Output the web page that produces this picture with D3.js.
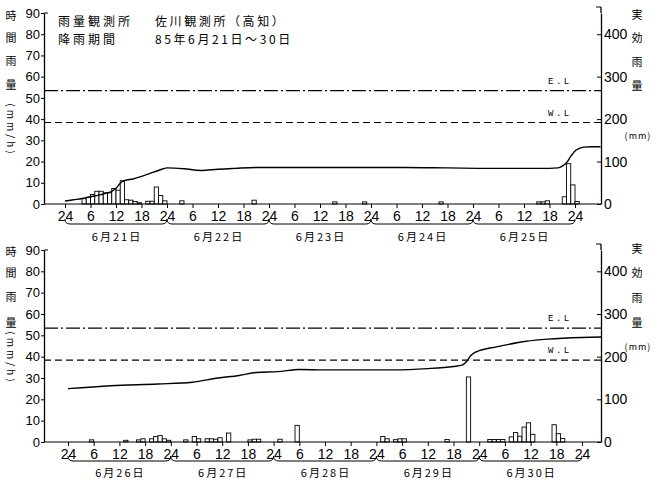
<!DOCTYPE html>
<html><head><meta charset="utf-8">
<script src="https://cdn.jsdelivr.net/npm/d3@7"></script>
<style>body{margin:0;background:#fff}svg{display:block}</style>
</head><body>
<svg id="c" width="662" height="481"></svg>
<script>
// ---------- data ----------
const titleLeft = ["雨量観測所", "降雨期間"];
const titleRight = ["佐川観測所（高知）", "85年6月21日～30日"];
const yTitleChars = ["時", "間", "雨", "量"];
const yTitleUnit = "(mm/h)";
const rTitleChars = ["実", "効", "雨", "量"];
const rTitleUnit = "(mm)";
const daysTop = ["6月21日", "6月22日", "6月23日", "6月24日", "6月25日"];
const daysBottom = ["6月26日", "6月27日", "6月28日", "6月29日", "6月30日"];
const hourTicks = [0,6,12,18,24,30,36,42,48,54,60,66,72,78,84,90,96,102,108,114,120];
const hourTickLabels = ["24","6","12","18","24","6","12","18","24","6","12","18","24","6","12","18","24","6","12","18","24"];
const leftTicks = [0,10,20,30,40,50,60,70,80,90];
const rightTicks = [0,100,200,300,400];
const levelNames = ["E.L", "W.L"];
const levelValues = [267, 192];

// hourly rainfall (mm/h), bar for hour [h, h+1]
const rainHoursTop  = [4,5,6,7,8,9,10,11,12,13,14,15,16,17,19,20,21,22,23,27,44,63,70,88,111,112,113,117,118,119,120];
const rainValuesTop = [2.5,3.2,4.5,6,6,5.3,5.3,7.3,6.5,11,2,1.8,1.2,0.6,1.3,1.3,8,4,1.5,1.5,1.8,1,1,1,1,1,1.5,3.4,19,9,1.2];
const rainHoursBottom  = [5,13,16,17,19,20,21,22,23,27,29,30,32,33,34,35,37,42,43,44,49,53,73,74,76,77,78,88,93,98,99,100,101,103,104,105,106,107,108,113,114,115];
const rainValuesBottom = [1,0.8,1,1.5,1.5,2.6,3,1.5,0.8,1,2.6,1.5,1.5,1.5,1.3,2,4.2,1,1.3,1.3,1.3,7.8,2.6,1.5,1.1,1.5,1.5,1.2,30.5,1.2,1.2,1.2,1.2,2.4,4.4,2.7,7,9,3.6,8.1,3.9,1.6];

// effective rainfall (mm)
const effHoursTop  = [0,2,4,6,8,10,11,12,13,14,16,18,20,22,24,28,32,36,40,45,50,60,70,80,90,100,108,114,116,117,118,119,120,121,122,124,126];
const effValuesTop = [7,10,13,17,21,26,30,37,49,55,59,65,72,79,85,83,79,82,84,86,86,86,86,86,85,84,84,84,85,89,97,112,125,131,134,135,135];
const effHoursBottom  = [0,10,21,29,35,40,44,49,54,60,68,76,84,90,92,93,94,95,96,100,107,112,120,124.5];
const effValuesBottom = [125,132,136,140,150,156,163,165,170,169,169,169,172,177,180,188,202,210,214,223,236,241,245,246];

// ---------- layout ----------
const panels = [
  {y0:204, y90:13, xh0:65, xh120:575, braceY:224, dateY:236, days:daysTop,
   rain:[rainHoursTop, rainValuesTop], eff:[effHoursTop, effValuesTop], effEnd:126,
   yTitle:[15,37,60,84], yUnit:130, rTitle:[14,37,61,85], rUnit:135, title:true},
  {y0:442, y90:250, xh0:68, xh120:582, braceY:461, dateY:472, days:daysBottom,
   rain:[rainHoursBottom, rainValuesBottom], eff:[effHoursBottom, effValuesBottom], effEnd:124.5,
   yTitle:[251,272,296,322], yUnit:358, rTitle:[248,272,297,322], rUnit:346, title:false}
];
const leftX = 44, rightX = 601;
const jp = "'Noto Sans CJK JP', sans-serif";
const num = "'Liberation Sans', Arial, sans-serif";

const svg = d3.select("#c");
svg.append("rect").attr("width",662).attr("height",481).attr("fill","#fff");

panels.forEach(p => {
  const g = svg.append("g");
  const x = d3.scaleLinear().domain([0,120]).range([p.xh0, p.xh120]);
  const yL = d3.scaleLinear().domain([0,90]).range([p.y0, p.y90]);
  const yR = d3.scaleLinear().domain([0,450]).range([p.y0, p.y90]);

  // level lines
  levelValues.forEach((v,i) => {
    g.append("line").attr("x1",leftX).attr("x2",rightX)
      .attr("y1",yR(v)).attr("y2",yR(v))
      .attr("stroke","#000").attr("stroke-width",1.1)
      .attr("stroke-dasharray", i===0 ? "14,3,2,3" : "7,4");
    g.append("text").attr("x",548).attr("y",yR(v)-7)
      .attr("font-family","'Liberation Mono', monospace").attr("font-size",9)
      .attr("letter-spacing",2.5).attr("fill","#000").text(levelNames[i]);
  });

  // bars
  const hrs = p.rain[0], vals = p.rain[1];
  g.selectAll("rect.bar").data(hrs.map((h,i)=>({h, v:vals[i]}))).join("rect")
    .attr("class","bar")
    .attr("x", d=>x(d.h)).attr("width", d=>x(d.h+1)-x(d.h))
    .attr("y", d=>yL(d.v)).attr("height", d=>p.y0-yL(d.v))
    .attr("fill","#fff").attr("stroke","#000").attr("stroke-width",0.9);

  // effective rainfall line
  const pts = p.eff[0].map((h,i)=>[h, p.eff[1][i]]);
  g.append("path").datum(pts)
    .attr("d", d3.line().x(d=>x(d[0])).y(d=>yR(d[1])).curve(d3.curveMonotoneX))
    .attr("fill","none").attr("stroke","#000").attr("stroke-width",1.4);

  // left axis
  const la = g.append("g").attr("transform",`translate(${leftX},0)`)
    .call(d3.axisLeft(yL).tickValues(leftTicks).tickSize(3).tickSizeOuter(0).tickPadding(1));
  la.selectAll("text").attr("font-family",num).attr("font-size",13).attr("fill","#000");
  la.select(".domain").attr("stroke-width",1.3);
  g.append("line").attr("x1",leftX).attr("x2",leftX+4).attr("y1",p.y90).attr("y2",p.y90).attr("stroke","#000");

  // right axis
  const ra = g.append("g").attr("transform",`translate(${rightX},0)`)
    .call(d3.axisRight(yR).tickValues(rightTicks).tickSize(-4).tickSizeOuter(0).tickPadding(3));
  ra.selectAll("text").attr("font-family",num).attr("font-size",14).attr("fill","#000");
  ra.select(".domain").attr("stroke-width",1.3);
  g.append("line").attr("x1",rightX).attr("x2",rightX).attr("y1",p.y90).attr("y2",p.y90-6).attr("stroke","#000").attr("stroke-width",1.3);
  g.append("line").attr("x1",rightX-5).attr("x2",rightX).attr("y1",p.y90-6).attr("y2",p.y90-6).attr("stroke","#000");

  // bottom axis
  g.append("line").attr("x1",leftX).attr("x2",rightX).attr("y1",p.y0).attr("y2",p.y0)
    .attr("stroke","#000").attr("stroke-width",1.1);
  const ba = g.append("g").attr("transform",`translate(0,${p.y0})`)
    .call(d3.axisBottom(x).tickValues(hourTicks).tickFormat((d,i)=>hourTickLabels[i]).tickSize(4).tickPadding(3));
  ba.select(".domain").remove();
  ba.selectAll("text").attr("font-family",num).attr("font-size",14).attr("fill","#000");

  // day braces and labels
  p.days.forEach((lab,i) => {
    const x0 = x(24*i), x1 = x(24*(i+1)), by = p.braceY;
    g.append("path")
      .attr("d",`M${x0},${by-5} Q${x0},${by} ${x0+5},${by} L${x1-5},${by} Q${x1},${by} ${x1},${by-5}`)
      .attr("fill","none").attr("stroke","#000").attr("stroke-width",1);
    g.append("text").attr("x",(x0+x1)/2+1).attr("y",p.dateY).attr("dominant-baseline","central")
      .attr("text-anchor","middle").attr("font-family",jp).attr("font-size",11)
      .attr("letter-spacing",2).attr("fill","#000").text(lab);
  });

  // left title
  yTitleChars.forEach((c,i)=>{
    g.append("text").attr("x",11).attr("y",p.yTitle[i]).attr("text-anchor","middle")
      .attr("dominant-baseline","central").attr("font-family",jp).attr("font-size",11)
      .attr("fill","#000").text(c);
  });
  g.append("text").attr("transform",`translate(11,${p.yUnit}) rotate(90)`)
    .attr("text-anchor","middle").attr("dominant-baseline","central")
    .attr("font-family",jp).attr("font-size",10).attr("letter-spacing",3)
    .attr("fill","#000").text(yTitleUnit);

  // right title
  rTitleChars.forEach((c,i)=>{
    g.append("text").attr("x",637).attr("y",p.rTitle[i]).attr("text-anchor","middle")
      .attr("dominant-baseline","central").attr("font-family",jp).attr("font-size",11)
      .attr("fill","#000").text(c);
  });
  g.append("text").attr("x",638).attr("y",p.rUnit).attr("text-anchor","middle")
    .attr("dominant-baseline","central").attr("font-family",jp).attr("font-size",9)
    .attr("letter-spacing",1).attr("fill","#000").text(rTitleUnit);

  // station / period header
  if (p.title) {
    [20, 38].forEach((yy,i)=>{
      g.append("text").attr("x",58).attr("y",yy).attr("dominant-baseline","central")
        .attr("font-family",jp).attr("font-size",12).attr("letter-spacing",3)
        .attr("fill","#000").text(titleLeft[i]);
      g.append("text").attr("x",155).attr("y",yy).attr("dominant-baseline","central")
        .attr("font-family",jp).attr("font-size",12).attr("letter-spacing",2.6)
        .attr("fill","#000").text(titleRight[i]);
    });
  }
});
</script>
</body></html>
